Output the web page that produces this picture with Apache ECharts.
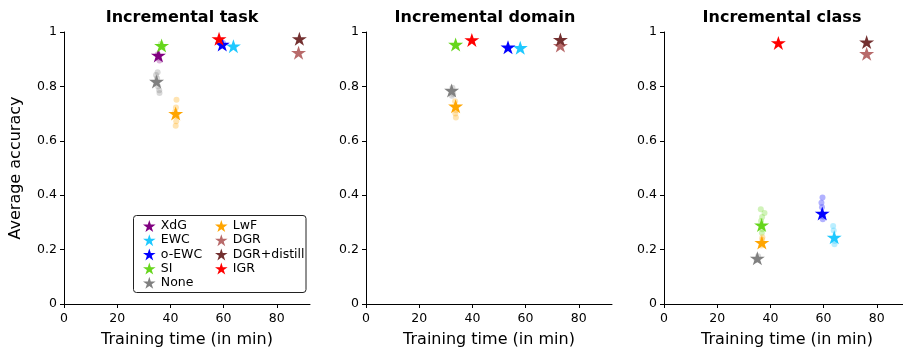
<!DOCTYPE html>
<html>
<head>
<meta charset="utf-8">
<script src="https://cdn.jsdelivr.net/npm/echarts@6/dist/echarts.min.js"></script>
<style>html,body{margin:0;padding:0;background:#fff;}#c{width:903px;height:347px;}</style>
</head>
<body>
<div id="c"></div>
<script>
// ---- data ----
const methods = ['XdG', 'EWC', 'o-EWC', 'SI', 'None', 'LwF', 'DGR', 'DGR+distill', 'IGR'];
const panelTitles = ['Incremental task', 'Incremental domain', 'Incremental class'];
const xTicks = [0, 20, 40, 60, 80];
const yTicks = [0, 0.2, 0.4, 0.6, 0.8, 1];

// mean results (stars): training time (min), average accuracy
const taskTime   = [35.5, 63.7, 59.5, 36.7, 34.8, 42.0, 88.2, 88.5, 58.3];
const taskAcc    = [0.914, 0.948, 0.954, 0.950, 0.818, 0.700, 0.924, 0.975, 0.975];
const domainTime = [null, 58.0, 53.4, 33.7, 32.2, 33.7, 73.1, 73.1, 39.8];
const domainAcc  = [null, 0.942, 0.944, 0.954, 0.785, 0.727, 0.950, 0.972, 0.971];
const classTime  = [null, 64.0, 59.5, 36.7, 35.1, 36.8, 76.2, 76.2, 43.0];
const classAcc   = [null, 0.245, 0.333, 0.290, 0.168, 0.226, 0.920, 0.963, 0.960];

// individual runs (faint dots): [method, time, accuracy]
const taskRuns = [
  ['XdG', 35.9, 0.895], ['XdG', 35.3, 0.918], ['XdG', 35.7, 0.905],
  ['SI', 36.4, 0.956], ['SI', 37.1, 0.944],
  ['None', 35.2, 0.852], ['None', 34.6, 0.842], ['None', 35.0, 0.830], ['None', 35.4, 0.800], ['None', 35.8, 0.786], ['None', 35.9, 0.776],
  ['LwF', 42.3, 0.751], ['LwF', 42.1, 0.722], ['LwF', 41.8, 0.706], ['LwF', 42.4, 0.690], ['LwF', 42.2, 0.672], ['LwF', 42.0, 0.655],
  ['o-EWC', 59.8, 0.960], ['o-EWC', 59.3, 0.950]
];
const domainRuns = [
  ['None', 32.5, 0.795], ['None', 32.8, 0.772], ['None', 32.3, 0.766],
  ['LwF', 33.5, 0.745], ['LwF', 33.9, 0.712], ['LwF', 33.6, 0.700], ['LwF', 33.8, 0.686]
];
const classRuns = [
  ['SI', 36.4, 0.348], ['SI', 37.8, 0.335], ['SI', 36.9, 0.320], ['SI', 36.5, 0.305], ['SI', 37.0, 0.275], ['SI', 36.8, 0.262],
  ['LwF', 37.0, 0.245], ['LwF', 36.6, 0.215], ['LwF', 36.9, 0.236],
  ['None', 35.4, 0.176], ['None', 34.8, 0.162],
  ['o-EWC', 59.6, 0.392], ['o-EWC', 59.2, 0.372], ['o-EWC', 59.4, 0.356], ['o-EWC', 59.8, 0.322], ['o-EWC', 59.7, 0.312],
  ['EWC', 63.6, 0.287], ['EWC', 63.8, 0.270], ['EWC', 64.2, 0.232], ['EWC', 64.1, 0.220]
];

// ---- styles ----
const colors = ['#800080', '#1ec8ff', '#0000ff', '#66d61c', '#808080', '#ffa500', '#b86a6a', '#733030', '#ff0000'];
const STAR = 'path://M0,-10L2.245,-3.09L9.511,-3.09L3.633,1.18L5.878,8.09L0,3.82L-5.878,8.09L-3.633,1.18L-9.511,-3.09L-2.245,-3.09Z';
const FONT = 'DejaVu Sans';
const gridLefts = [64, 366, 664];
const titleCenters = [177, 480, 777];
const plotW = 246, plotTop = 32, plotH = 272, xMax = 92.5;

const panels = [
  {time: taskTime, acc: taskAcc, runs: taskRuns},
  {time: domainTime, acc: domainAcc, runs: domainRuns},
  {time: classTime, acc: classAcc, runs: classRuns}
];

const grids = [], xAxes = [], yAxes = [], titles = [], series = [];
panels.forEach((p, gi) => {
  grids.push({left: gridLefts[gi], top: plotTop, width: plotW, height: plotH, outerBoundsMode: 'none', containLabel: false});
  titles.push({text: panelTitles[gi], left: titleCenters[gi], top: 5, textAlign: 'center',
    textStyle: {fontFamily: FONT, fontSize: 16, fontWeight: 'bold', color: '#000'}});
  xAxes.push({
    type: 'value', gridIndex: gi, min: 0, max: xMax,
    name: 'Training time (in min)', nameLocation: 'middle', nameGap: 28,
    nameTextStyle: {fontFamily: FONT, fontSize: 16, color: '#000'},
    axisLine: {show: true, onZero: false, lineStyle: {color: '#000', width: 1}},
    axisTick: {show: true, length: 4, lineStyle: {color: '#000'}, customValues: xTicks},
    axisLabel: {fontFamily: FONT, fontSize: 12.5, color: '#000', margin: 8, customValues: xTicks},
    splitLine: {show: false}
  });
  yAxes.push({
    type: 'value', gridIndex: gi, min: 0, max: 1,
    name: gi === 0 ? 'Average accuracy' : '', nameLocation: 'middle', nameGap: 40,
    nameTextStyle: {fontFamily: FONT, fontSize: 16, color: '#000'},
    axisLine: {show: true, onZero: false, lineStyle: {color: '#000', width: 1}},
    axisTick: {show: true, length: 4, lineStyle: {color: '#000'}, customValues: yTicks},
    axisLabel: {fontFamily: FONT, fontSize: 12.5, color: '#000', margin: 7, customValues: yTicks},
    splitLine: {show: false}
  });
  methods.forEach((m, mi) => {
    const runs = p.runs.filter(r => r[0] === m).map(r => [r[1], r[2]]);
    if (runs.length) {
      series.push({type: 'scatter', name: m + ' runs', xAxisIndex: gi, yAxisIndex: gi, data: runs,
        symbol: 'circle', symbolSize: 6, itemStyle: {color: colors[mi], opacity: 0.3}, z: 2, silent: true});
    }
  });
  methods.forEach((m, mi) => {
    if (p.time[mi] != null) {
      series.push({type: 'scatter', name: m, xAxisIndex: gi, yAxisIndex: gi, data: [[p.time[mi], p.acc[mi]]],
        symbol: STAR, symbolSize: [15, 14], itemStyle: {color: colors[mi], opacity: 1}, z: 3});
    }
  });
});

const legendBase = {orient: 'vertical', top: 214.5, itemWidth: 13, itemHeight: 12, itemGap: 1.2, icon: STAR,
  textStyle: {fontFamily: FONT, fontSize: 12.5, color: '#000', lineHeight: 12}, selectedMode: false, z: 10,
  itemStyle: {opacity: 1}};

const chart = echarts.init(document.getElementById('c'), null, {renderer: 'canvas'});
chart.setOption({
  animation: false,
  backgroundColor: '#fff',
  title: titles,
  grid: grids,
  xAxis: xAxes,
  yAxis: yAxes,
  legend: [
    Object.assign({}, legendBase, {left: 138, data: methods.slice(0, 5)}),
    Object.assign({}, legendBase, {left: 210, data: methods.slice(5)})
  ],
  graphic: [{type: 'rect', shape: {x: 133.5, y: 215.5, width: 172.5, height: 77, r: 3},
    style: {fill: 'rgba(255,255,255,0.8)', stroke: '#222', lineWidth: 1}, z: 5}],
  series: series
});
</script>
</body>
</html>
